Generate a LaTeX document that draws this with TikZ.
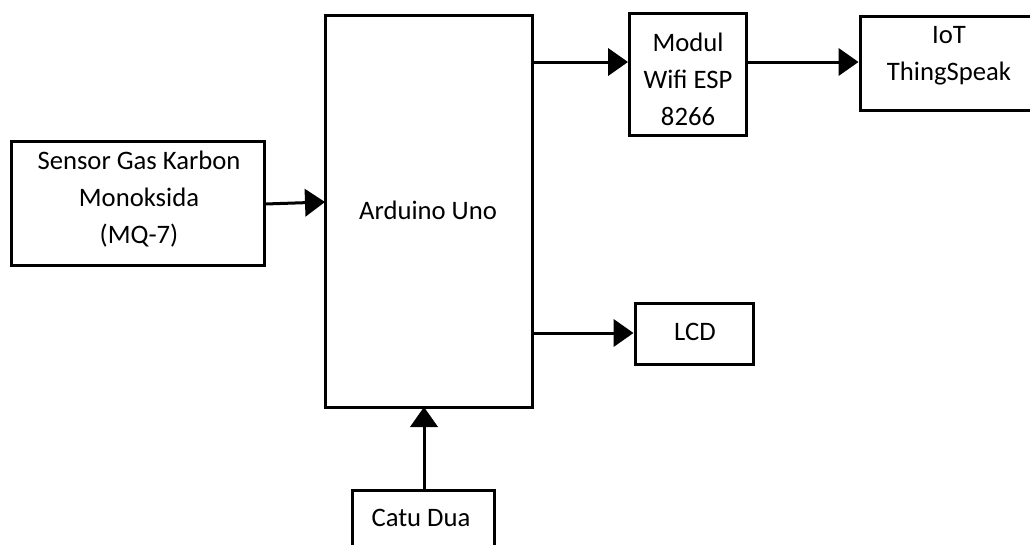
\documentclass[tikz,border=0pt]{standalone}
\usepackage{fontspec}
\setmainfont{Carlito}
\usetikzlibrary{arrows.meta}
\tikzset{
  box/.style={draw=black, line width=2.25pt, rectangle, inner sep=0pt, fill=white},
  txt/.style={align=center, inner sep=0pt, font=\fontsize{20}{27.75}\selectfont},
  conn/.style={line width=2.25pt, -{Triangle[length=15pt, width=20.5pt]}}
}
\begin{document}
\begin{tikzpicture}[x=0.75pt, y=-0.75pt]
\clip (0,0) rectangle (1030,544);
\fill[white] (0,0) rectangle (1030,544);
% boxes
\node[box, minimum width=190pt, minimum height=93pt] (sensor) at (138,203) {};
\node[box, minimum width=155.25pt, minimum height=294pt] (ard) at (428.5,211) {};
\node[box, minimum width=87.75pt, minimum height=91.5pt] (wifi) at (688,74) {};
\node[box, minimum width=128.25pt, minimum height=70.5pt] (iot) at (945.5,63) {};
\node[box, minimum width=88.5pt, minimum height=45.75pt] (lcd) at (694,333.5) {};
\node[box, minimum width=106.5pt, minimum height=52.5pt] (catu) at (423,525) {};
% texts
\node[txt] (tsensor) at (139,199) {Sensor Gas Karbon\\Monoksida\\(MQ-7)};
\node[txt] (tard) at (428,210) {Arduino Uno};
\node[txt] (twifi) at (688,79) {Modul\\Wifi ESP\\8266};
\node[txt] (tiot) at (949,55.5) {IoT\\ThingSpeak};
\node[txt] (tlcd) at (695,332) {LCD};
\node[txt] (tcatu) at (421,518) {Catu Dua};
% connector points
\coordinate (sout) at (265,204);
\coordinate (ain) at (325,202);
\coordinate (aw) at (532,62);
\coordinate (al) at (532,333);
\coordinate (cin) at (424,407);
\coordinate (cout) at (424,490);
% connectors
\draw[conn] (sout) -- (ain);
\draw[conn] (aw) -- (wifi.west |- aw);
\draw[conn] (wifi.east |- aw) -- (iot.west |- aw);
\draw[conn] (al) -- (lcd.west |- al);
\draw[conn] (cout) -- (cin);
\end{tikzpicture}
\end{document}
